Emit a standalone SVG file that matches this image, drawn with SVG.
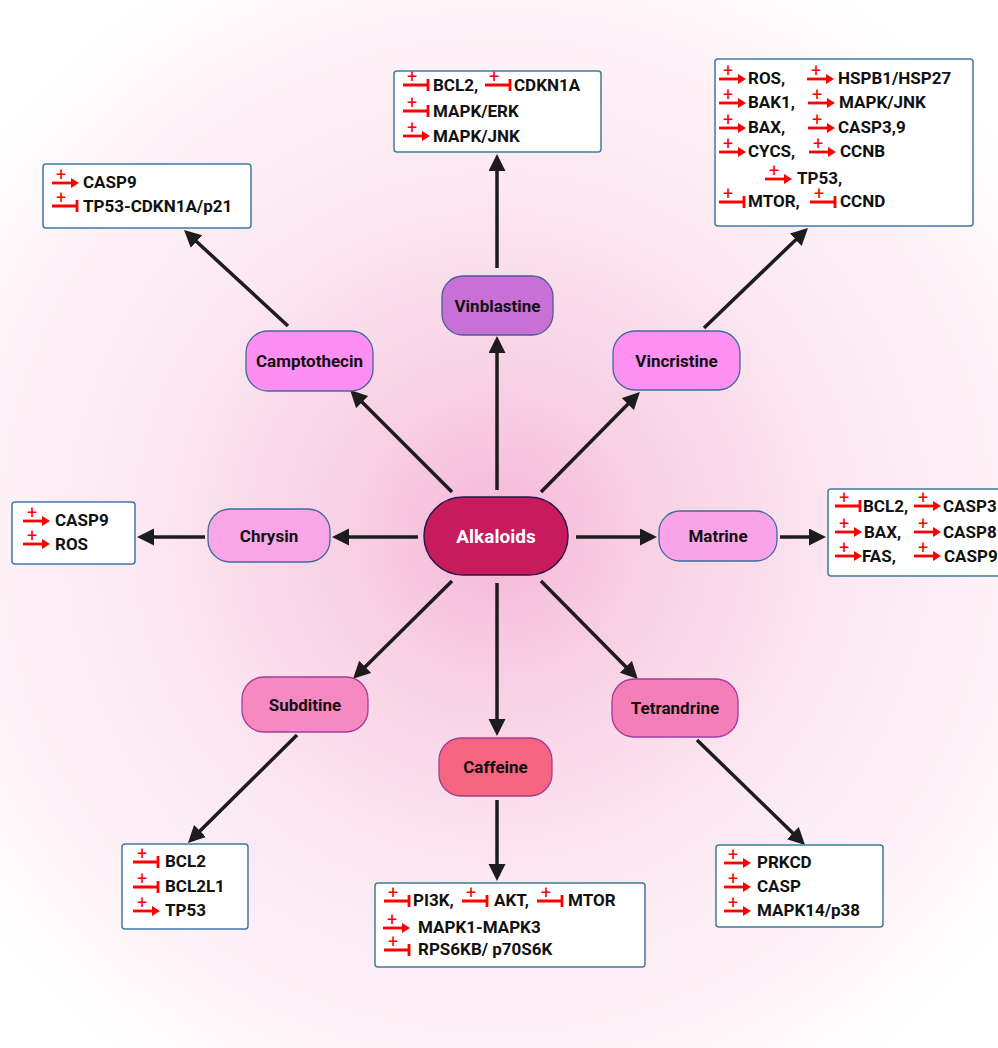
<svg xmlns="http://www.w3.org/2000/svg" width="998" height="1048" viewBox="0 0 998 1048">
<style>
.bx{fill:#fff;stroke:#3f7aa0;stroke-width:1.5}
.t{font-family:Roboto,"Liberation Sans",sans-serif;font-weight:700;font-size:17px;fill:#111}
.nl{font-family:Roboto,"Liberation Sans",sans-serif;font-weight:700;font-size:17px;fill:#111;text-anchor:middle}
.pl{font-family:Roboto,"Liberation Sans",sans-serif;font-size:18px;fill:#f00;text-anchor:middle}
.rl{stroke:#f00;stroke-width:2.8;fill:none}
.cn{stroke:#1c1c1c;stroke-width:3.5;fill:none;marker-end:url(#ah)}
.nd{stroke-width:1.3}
</style>
<defs>
<radialGradient id="bg" cx="497" cy="535" r="640" gradientUnits="userSpaceOnUse">
<stop offset="0" stop-color="#f5b6d6"/>
<stop offset="0.22" stop-color="#f8cfe4"/>
<stop offset="0.55" stop-color="#fce8f2"/>
<stop offset="0.85" stop-color="#fef5f9"/>
<stop offset="1" stop-color="#ffffff"/>
</radialGradient>
<marker id="ah" markerUnits="userSpaceOnUse" markerWidth="20" markerHeight="20" refX="3" refY="8.5" orient="auto">
<path d="M0 0L17 8.5L0 17Z" fill="#1c1c1c"/>
</marker>
<linearGradient id="g9" gradientUnits="userSpaceOnUse" x1="497" y1="268" x2="497" y2="168"><stop offset="0" stop-color="#1c1c1c" stop-opacity="0"/><stop offset="0.45" stop-color="#1c1c1c"/></linearGradient>
<linearGradient id="g10" gradientUnits="userSpaceOnUse" x1="288" y1="326" x2="194" y2="240"><stop offset="0" stop-color="#1c1c1c" stop-opacity="0"/><stop offset="0.45" stop-color="#1c1c1c"/></linearGradient>
<linearGradient id="g11" gradientUnits="userSpaceOnUse" x1="704" y1="328" x2="798" y2="238"><stop offset="0" stop-color="#1c1c1c" stop-opacity="0"/><stop offset="0.45" stop-color="#1c1c1c"/></linearGradient>
<linearGradient id="g12" gradientUnits="userSpaceOnUse" x1="205" y1="537" x2="151" y2="537"><stop offset="0" stop-color="#1c1c1c" stop-opacity="0"/><stop offset="0.55" stop-color="#1c1c1c"/></linearGradient>
<linearGradient id="g13" gradientUnits="userSpaceOnUse" x1="780" y1="537" x2="812" y2="537"><stop offset="0" stop-color="#1c1c1c" stop-opacity="0"/><stop offset="0.6" stop-color="#1c1c1c"/></linearGradient>
<linearGradient id="g14" gradientUnits="userSpaceOnUse" x1="297" y1="735" x2="198" y2="833"><stop offset="0" stop-color="#1c1c1c" stop-opacity="0"/><stop offset="0.45" stop-color="#1c1c1c"/></linearGradient>
<linearGradient id="g15" gradientUnits="userSpaceOnUse" x1="497" y1="800" x2="497" y2="867"><stop offset="0" stop-color="#1c1c1c" stop-opacity="0"/><stop offset="0.5" stop-color="#1c1c1c"/></linearGradient>
<linearGradient id="g16" gradientUnits="userSpaceOnUse" x1="697" y1="740" x2="795" y2="835"><stop offset="0" stop-color="#1c1c1c" stop-opacity="0"/><stop offset="0.45" stop-color="#1c1c1c"/></linearGradient>
<g id="act"><text class="pl" x="9" y="-2">+</text><path class="rl" d="M0 0H20"/><path d="M19 -5L27 0L19 5Z" fill="#f00"/></g>
<g id="inh"><text class="pl" x="9" y="-2">+</text><path class="rl" d="M0 0H25M25 -6V6"/></g>
</defs>
<rect x="0" y="0" width="998" height="1048" fill="url(#bg)"/>

<g id="connectors">
<path class="cn" d="M497 490V350"/>
<path class="cn" d="M452 492L360 400"/>
<path class="cn" d="M541 492L630 402"/>
<path class="cn" d="M418 537H346"/>
<path class="cn" d="M576 537H643"/>
<path class="cn" d="M452 581L363 669"/>
<path class="cn" d="M497 583V722"/>
<path class="cn" d="M541 581L628 669"/>
<path class="cn" stroke="url(#g9)" d="M497 268V168"/>
<path class="cn" stroke="url(#g10)" d="M288 326L194.3 239.5"/>
<path class="cn" stroke="url(#g11)" d="M704 328L797.9 237.7"/>
<path class="cn" stroke="url(#g12)" d="M205 537H151"/>
<path class="cn" stroke="url(#g13)" d="M780 537H812"/>
<path class="cn" stroke="url(#g14)" d="M297 735L197.9 833.1"/>
<path class="cn" stroke="url(#g15)" d="M497 800V867"/>
<path class="cn" stroke="url(#g16)" d="M697 740L795 835.2"/>
</g>

<g id="alkaloids">
<rect x="424" y="497" width="144" height="78" rx="39" fill="#c81b5d" stroke="#2a1848" stroke-width="1.5"/>
<text x="496" y="543" text-anchor="middle" font-family="Roboto,'Liberation Sans',sans-serif" font-weight="700" font-size="19" fill="#fff">Alkaloids</text>
</g>
<g id="vinblastine">
<rect class="nd" x="442" y="276" width="111" height="59" rx="21" fill="#c86fd8" stroke="#4a5c92"/>
<text class="nl" x="497.5" y="311.5">Vinblastine</text>
</g>
<g id="camptothecin">
<rect class="nd" x="246" y="331" width="127" height="60" rx="22" fill="#fd8ff2" stroke="#3e6c9a"/>
<text class="nl" x="309.5" y="367">Camptothecin</text>
</g>
<g id="vincristine">
<rect class="nd" x="613" y="331" width="127" height="59" rx="22" fill="#fe90f2" stroke="#3e6c9a"/>
<text class="nl" x="676.5" y="366.5">Vincristine</text>
</g>
<g id="chrysin">
<rect class="nd" x="208" y="509" width="122" height="53" rx="22" fill="#f8a6e5" stroke="#3e6c9a"/>
<text class="nl" x="269" y="541.5">Chrysin</text>
</g>
<g id="matrine">
<rect class="nd" x="659" y="511" width="118" height="50" rx="21" fill="#f9a3e8" stroke="#3e6c9a"/>
<text class="nl" x="718" y="542">Matrine</text>
</g>
<g id="subditine">
<rect class="nd" x="242" y="677" width="126" height="55" rx="22" fill="#f589c0" stroke="#a03ca0"/>
<text class="nl" x="305" y="710.5">Subditine</text>
</g>
<g id="caffeine">
<rect class="nd" x="439" y="738" width="113" height="58" rx="22" fill="#f5657f" stroke="#a03c9c"/>
<text class="nl" x="495.5" y="773">Caffeine</text>
</g>
<g id="tetrandrine">
<rect class="nd" x="612" y="679" width="126" height="58" rx="22" fill="#f47fb8" stroke="#a03ca0"/>
<text class="nl" x="675" y="714">Tetrandrine</text>
</g>

<g id="box-vinblastine">
<rect class="bx" x="394" y="71" width="207" height="81" rx="3"/>
<use href="#inh" x="403" y="85"/><text class="t" x="433" y="91">BCL2,</text>
<use href="#inh" x="485" y="85"/><text class="t" x="514" y="91">CDKN1A</text>
<use href="#inh" x="403" y="111"/><text class="t" x="433" y="117">MAPK/ERK</text>
<use href="#act" x="403" y="136"/><text class="t" x="433" y="142">MAPK/JNK</text>
</g>
<g id="box-vincristine">
<rect class="bx" x="715" y="59" width="258" height="167" rx="3"/>
<use href="#act" x="719" y="79"/><text class="t" x="748" y="84">ROS,</text>
<use href="#act" x="807" y="79"/><text class="t" x="838" y="84">HSPB1/HSP27</text>
<use href="#act" x="719" y="103"/><text class="t" x="748" y="108">BAK1,</text>
<use href="#act" x="808" y="103"/><text class="t" x="839" y="108">MAPK/JNK</text>
<use href="#act" x="719" y="128"/><text class="t" x="748" y="133">BAX,</text>
<use href="#act" x="808" y="128"/><text class="t" x="838" y="133">CASP3,9</text>
<use href="#act" x="719" y="152"/><text class="t" x="748" y="157">CYCS,</text>
<use href="#act" x="809" y="152"/><text class="t" x="840" y="157">CCNB</text>
<use href="#act" x="765" y="179"/><text class="t" x="797" y="184">TP53,</text>
<use href="#inh" x="719" y="202"/><text class="t" x="748" y="207">MTOR,</text>
<use href="#inh" x="810" y="202"/><text class="t" x="840" y="207">CCND</text>
</g>
<g id="box-camptothecin">
<rect class="bx" x="43" y="164" width="208" height="64" rx="3"/>
<use href="#act" x="52" y="183"/><text class="t" x="83" y="188">CASP9</text>
<use href="#inh" x="52" y="206"/><text class="t" x="83" y="212">TP53-CDKN1A/p21</text>
</g>
<g id="box-chrysin">
<rect class="bx" x="12" y="502" width="123" height="62" rx="3"/>
<use href="#act" x="23" y="521"/><text class="t" x="55" y="526">CASP9</text>
<use href="#act" x="23" y="544"/><text class="t" x="55" y="550">ROS</text>
</g>
<g id="box-matrine">
<rect class="bx" x="828" y="489" width="185" height="87" rx="3"/>
<use href="#inh" x="835" y="506"/><text class="t" x="863" y="512">BCL2,</text>
<use href="#act" x="914" y="506"/><text class="t" x="943" y="512">CASP3</text>
<use href="#act" x="835" y="532"/><text class="t" x="864" y="538">BAX,</text>
<use href="#act" x="914" y="532"/><text class="t" x="943" y="538">CASP8</text>
<use href="#act" x="835" y="556"/><text class="t" x="862" y="562">FAS,</text>
<use href="#act" x="914" y="556"/><text class="t" x="944" y="562">CASP9</text>
</g>
<g id="box-caffeine">
<rect class="bx" x="375" y="883" width="270" height="84" rx="3"/>
<use href="#inh" x="384" y="901"/><text class="t" x="413" y="906">PI3K,</text>
<use href="#inh" x="462" y="901"/><text class="t" x="494" y="906">AKT,</text>
<use href="#inh" x="537" y="901"/><text class="t" x="568" y="906">MTOR</text>
<use href="#act" x="383" y="928"/><text class="t" x="418" y="933">MAPK1-MAPK3</text>
<use href="#inh" x="384" y="950"/><text class="t" x="418" y="955">RPS6KB/ p70S6K</text>
</g>
<g id="box-subditine">
<rect class="bx" x="122" y="844" width="126" height="85" rx="3"/>
<use href="#inh" x="133" y="862"/><text class="t" x="165" y="867">BCL2</text>
<use href="#inh" x="133" y="887"/><text class="t" x="165" y="892">BCL2L1</text>
<use href="#act" x="133" y="911"/><text class="t" x="165" y="916">TP53</text>
</g>
<g id="box-tetrandrine">
<rect class="bx" x="716" y="845" width="167" height="82" rx="3"/>
<use href="#act" x="724" y="863"/><text class="t" x="757" y="868">PRKCD</text>
<use href="#act" x="724" y="887"/><text class="t" x="757" y="892">CASP</text>
<use href="#act" x="724" y="911"/><text class="t" x="757" y="916">MAPK14/p38</text>
</g>
</svg>
